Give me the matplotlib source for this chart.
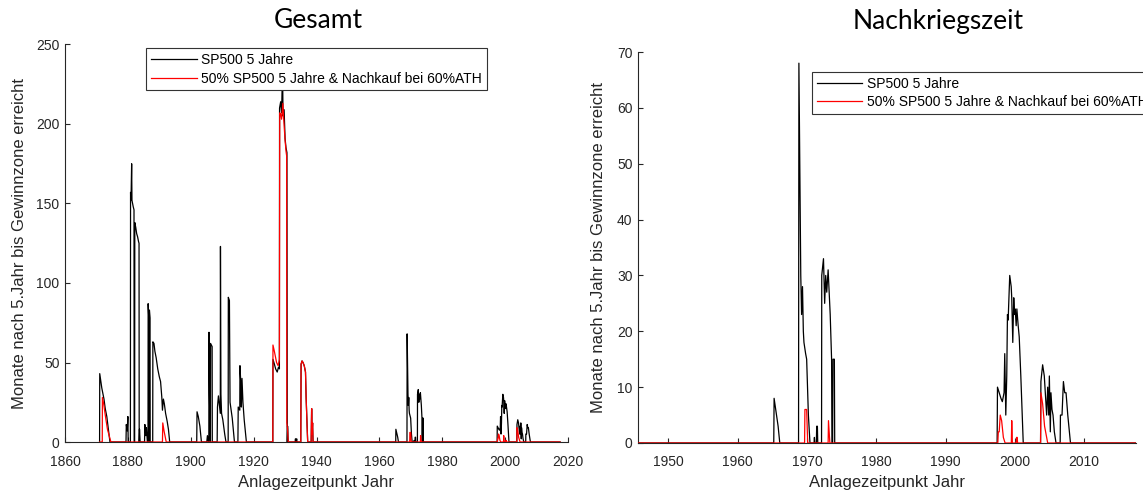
import matplotlib.pyplot as plt

# Monate nach dem 5. Jahr bis Gewinnzone erreicht
jahr_sp500 = [
    1871.0, 1871.05, 1871.4, 1871.7, 1872.0, 1872.4, 1872.8, 1873.3, 1873.8, 1874.3,
    1879.4, 1879.5, 1879.8, 1880.0, 1880.1,
    1880.8, 1880.85, 1881.0, 1881.2, 1881.3, 1881.5, 1881.7, 1881.95, 1882.0,
    1882.15, 1882.2, 1882.5, 1882.8, 1883.1, 1883.4, 1883.55, 1883.6, 1883.7, 1883.9,
    1885.3, 1885.4, 1885.7, 1885.9, 1886.2,
    1886.4, 1886.45, 1886.6, 1886.65, 1886.8, 1886.85, 1887.05, 1887.1,
    1887.9, 1887.95, 1888.3, 1888.6, 1889.0, 1889.5, 1890.0, 1890.4, 1890.8, 1891.0,
    1891.3, 1891.6, 1892.0, 1892.5, 1892.9, 1893.3,
    1901.9, 1902.0, 1902.4, 1902.9, 1903.4,
    1905.1, 1905.3, 1905.6, 1905.75, 1905.8, 1905.95, 1906.1, 1906.25, 1906.3, 1906.8, 1906.85,
    1908.4, 1908.5, 1908.8, 1909.2, 1909.4, 1909.45, 1909.6, 1909.8, 1910.2, 1910.8, 1911.2,
    1911.9, 1911.95, 1912.3, 1912.5, 1913.2, 1913.9,
    1915.0, 1915.1, 1915.6, 1915.65, 1915.9, 1916.1, 1916.3, 1916.6, 1917.0, 1917.7,
    1926.1, 1926.15, 1926.6, 1927.0, 1927.5, 1927.9, 1928.2, 1928.25, 1928.6, 1928.9,
    1929.2, 1929.35, 1929.7, 1930.0, 1930.3, 1930.6, 1930.7, 1930.8, 1931.0,
    1933.2, 1933.3, 1933.5, 1933.7, 1933.8,
    1935.0, 1935.1, 1935.4, 1935.7, 1936.1, 1936.5, 1936.7, 1937.0, 1937.2,
    1938.3, 1938.45, 1938.6, 1938.75, 1938.9,
    1965.2, 1965.25, 1965.83, 1966.07,
    1968.78, 1968.83, 1969.1, 1969.22, 1969.35, 1969.47, 1969.56, 1969.8, 1969.95, 1970.2, 1970.43,
    1971.02, 1971.07, 1971.12, 1971.35, 1971.4, 1971.5, 1971.55,
    1972.1, 1972.13, 1972.38, 1972.55, 1972.7, 1972.85, 1973.05, 1973.35, 1973.55, 1973.6,
    1973.7, 1973.75, 1973.95, 1974.0,
    1997.45, 1997.5, 1997.75, 1998.0, 1998.2, 1998.45, 1998.55, 1998.7, 1998.84, 1998.94,
    1999.04, 1999.27, 1999.48, 1999.56, 1999.71, 1999.85, 1999.96, 2000.06, 2000.2, 2000.3,
    2000.49, 2000.64, 2000.87, 2001.22,
    2003.72, 2003.77, 2004.02, 2004.26, 2004.41, 2004.6, 2004.75, 2004.9, 2004.99, 2005.13,
    2005.22, 2005.37, 2005.52, 2005.71, 2005.95,
    2006.55, 2006.59, 2006.82, 2007.02, 2007.21, 2007.4, 2007.65, 2008.04,
    2017.5,
]
sp500_5j = [
    0, 43, 38, 34, 31, 27, 21, 16, 8, 0,
    0, 11, 7, 16, 0,
    0, 157, 152, 175, 152, 150, 148, 146, 0,
    0, 138, 135, 131, 129, 126, 125, 0, 8, 0,
    0, 11, 4, 9, 0,
    0, 87, 80, 5, 0, 83, 78, 0,
    0, 63, 62, 57, 53, 46, 41, 38, 28, 20,
    27, 24, 18, 13, 8, 0,
    0, 19, 16, 10, 0,
    0, 4, 0, 0, 69, 30, 10, 0, 62, 60, 0,
    0, 22, 29, 22, 18, 123, 30, 18, 14, 5, 0,
    0, 91, 89, 25, 15, 0,
    0, 22, 20, 48, 38, 22, 40, 25, 14, 0,
    0, 52, 49, 46, 44, 47, 46, 210, 214, 207,
    235, 205, 209, 191, 185, 182, 0, 10, 0,
    0, 2, 0, 2, 0,
    0, 49, 51, 50, 48, 44, 28, 10, 0,
    0, 21, 5, 12, 0,
    0, 8, 3, 0,
    0, 68, 30, 23, 28, 20, 18, 16, 15, 5, 0,
    0, 1, 0, 0, 3, 3, 0,
    0, 30, 33, 25, 30, 27, 31, 23, 15, 0,
    0, 15, 15, 0,
    0, 10, 9, 8, 7.4, 9, 16, 5, 12, 23,
    22, 30, 28, 26, 18, 26, 23, 24, 21, 24,
    21, 19, 12, 0,
    0, 11, 14, 12, 9, 5, 10, 5, 12, 2,
    9, 6, 5, 2, 0,
    0, 5, 5, 11, 9, 9, 5, 0,
    0,
]

jahr_nachkauf = [
    1871.0, 1871.85, 1871.9, 1872.3, 1872.8, 1873.5, 1874.6,
    1891.0, 1891.1, 1891.5, 1892.2,
    1926.1, 1926.15, 1926.6, 1927.0, 1927.3, 1927.8, 1928.2, 1928.3, 1928.6, 1928.9,
    1929.3, 1929.5, 1930.0, 1930.3, 1930.5, 1930.55, 1930.8, 1931.0,
    1935.0, 1935.1, 1935.4, 1935.7, 1936.1, 1936.5, 1936.7, 1937.0, 1937.2,
    1938.3, 1938.45, 1938.6, 1938.75, 1938.9,
    1969.65, 1969.7, 1969.95, 1970.1,
    1973.05, 1973.1, 1973.3,
    1997.55, 1997.62, 1997.75, 1997.9, 1998.1, 1998.35, 1998.6,
    1999.5, 1999.56, 1999.65, 2000.2, 2000.25, 2000.35, 2000.4,
    2003.72, 2003.77, 2004.02, 2004.3, 2004.75,
    2017.5,
]
nachkauf_60ath = [
    0, 0, 28, 24, 17, 8, 0,
    0, 12, 7, 0,
    0, 61, 57, 53, 50, 48, 52, 207, 206, 203,
    213, 205, 190, 183, 180, 12, 8, 0,
    0, 49, 51, 50, 48, 44, 28, 10, 0,
    0, 21, 5, 12, 0,
    0, 6, 6, 0,
    0, 4, 0,
    0, 2, 2, 5, 4, 1, 0,
    0, 4, 0, 0, 1, 1, 0,
    0, 9, 7, 3, 0,
    0,
]

label_sp500 = 'SP500 5 Jahre'
label_nachkauf = '50% SP500 5 Jahre & Nachkauf bei 60%ATH'
ylabel = 'Monate nach 5.Jahr bis Gewinnzone erreicht'
xlabel = 'Anlagezeitpunkt Jahr'

plt.rcParams['font.family'] = ['Liberation Sans', 'DejaVu Sans']
achsfarbe = '#262626'

fig = plt.figure(figsize=(11.43, 4.91), dpi=100)
ax1 = fig.add_axes([65 / 1143, 49 / 491, 503 / 1143, 397.5 / 491])
ax2 = fig.add_axes([638 / 1143, 48 / 491, 498 / 1143, 391 / 491])


def zeichne(ax, xlim, ylim, yticks, xticks, leg_pos, ylab_x, xlab_y):
    ax.plot(jahr_sp500, sp500_5j, color='black', lw=0.9, label=label_sp500, zorder=3)
    ax.plot(jahr_nachkauf, nachkauf_60ath, color='red', lw=0.9, label=label_nachkauf, zorder=3)
    ax.set_xlim(*xlim)
    ax.set_ylim(*ylim)
    ax.set_xticks(xticks)
    ax.set_yticks(yticks)
    for s in ['top', 'right']:
        ax.spines[s].set_visible(False)
    for s in ['left', 'bottom']:
        ax.spines[s].set_color(achsfarbe)
        ax.spines[s].set_linewidth(0.8)
    ax.tick_params(direction='in', length=3.5, width=0.8, colors=achsfarbe,
                   labelsize=10)
    ax.tick_params(axis='y', pad=4)
    ax.tick_params(axis='x', pad=9)
    ax.set_ylabel(ylabel, fontsize=12, color=achsfarbe)
    ax.set_xlabel(xlabel, fontsize=12, color=achsfarbe)
    ax.yaxis.set_label_coords(ylab_x, 0.5)
    ax.xaxis.set_label_coords(0.5, xlab_y)
    leg = ax.legend(loc='upper left', bbox_to_anchor=leg_pos, fontsize=10,
                    frameon=True, fancybox=False, framealpha=1, edgecolor='#333333',
                    borderpad=0.35, labelspacing=0.3, handlelength=3.3,
                    handletextpad=0.3, borderaxespad=0)
    leg.get_frame().set_linewidth(0.8)


zeichne(ax1, (1860, 2020), (0, 250), range(0, 251, 50), range(1860, 2021, 20),
        (0.162, 0.990), -0.076, -0.083)
zeichne(ax2, (1945.6, 2017.5), (0, 70), range(0, 71, 10), range(1950, 2011, 10),
        (0.349, 0.949), -0.064, -0.082)

fig.text(318 / 1143, 1 - 21 / 491, 'Gesamt', ha='center', va='center',
         fontsize=19, family='Lato')
fig.text(938 / 1143, 1 - 21 / 491, 'Nachkriegszeit', ha='center', va='center',
         fontsize=19, family='Lato')

fig.savefig('out.png', dpi=100)
